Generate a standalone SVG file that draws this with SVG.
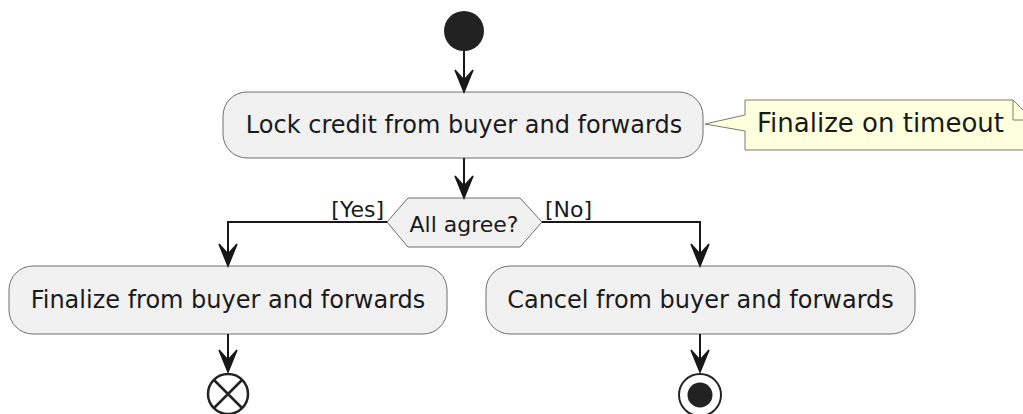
<svg xmlns="http://www.w3.org/2000/svg" width="1023" height="414" viewBox="0 0 1023 414">
<style>
.act{fill:#F1F1F1;stroke:#6E6E6E;stroke-width:1}
.t{font-family:"DejaVu Sans",sans-serif;fill:#1A1A1A}
.ln{fill:none;stroke:#181818;stroke-width:2}
.ah{fill:#181818;stroke:#181818;stroke-width:1.5}
</style>
<rect width="1023" height="414" fill="#FFFFFF"/>
<g id="start"><circle cx="464" cy="31" r="20" fill="#222222"/></g>
<g id="lock">
<rect class="act" x="223" y="92" width="480" height="66" rx="24" ry="24"/>
<text class="t" x="464" y="133" font-size="24" text-anchor="middle">Lock credit from buyer and forwards</text>
</g>
<g id="note">
<path d="M745,100 L1013,100 L1033,120 L1033,150 L745,150 L745,131 L705,124 L745,115 Z" fill="#FEFFDD" stroke="#7A7A6A" stroke-width="1"/>
<path d="M1013,100 L1013,120 L1033,120" fill="none" stroke="#7A7A6A" stroke-width="1"/>
<text class="t" x="757" y="132" font-size="26">Finalize on timeout</text>
</g>
<g id="decision">
<polygon class="act" points="387,222 408,198 520,198 542,222 520,247 408,247"/>
<text class="t" x="464" y="232" font-size="22" text-anchor="middle">All agree?</text>
</g>
<g id="finalize">
<rect class="act" x="9" y="266" width="438" height="68" rx="24" ry="24"/>
<text class="t" x="228" y="308" font-size="24" text-anchor="middle">Finalize from buyer and forwards</text>
</g>
<g id="cancel">
<rect class="act" x="486" y="266" width="429" height="68" rx="24" ry="24"/>
<text class="t" x="700.5" y="308" font-size="24" text-anchor="middle">Cancel from buyer and forwards</text>
</g>
<g id="stop">
<circle cx="228" cy="394" r="20" fill="none" stroke="#222222" stroke-width="2.5"/>
<path d="M214,380 L242,408 M242,380 L214,408" stroke="#222222" stroke-width="2.5"/>
</g>
<g id="end">
<circle cx="700" cy="395" r="21" fill="none" stroke="#222222" stroke-width="2"/>
<circle cx="700" cy="395" r="12.5" fill="#222222"/>
</g>
<g id="connectors">
<path class="ln" d="M464,51 L464,90"/>
<polygon class="ah" points="455,70 464,92 473,70 464,80"/>
<path class="ln" d="M464,158 L464,196"/>
<polygon class="ah" points="455,176 464,198 473,176 464,186"/>
<path class="ln" d="M387,222 L228,222 L228,264"/>
<polygon class="ah" points="219,244 228,266 237,244 228,254"/>
<text class="t" x="384" y="217" font-size="22" text-anchor="end">[Yes]</text>
<path class="ln" d="M542,222 L700,222 L700,264"/>
<polygon class="ah" points="691,244 700,266 709,244 700,254"/>
<text class="t" x="545" y="217" font-size="22">[No]</text>
<path class="ln" d="M228,334 L228,370"/>
<polygon class="ah" points="219,350 228,372 237,350 228,360"/>
<path class="ln" d="M700,334 L700,370"/>
<polygon class="ah" points="691,350 700,372 709,350 700,360"/>
</g>
</svg>
